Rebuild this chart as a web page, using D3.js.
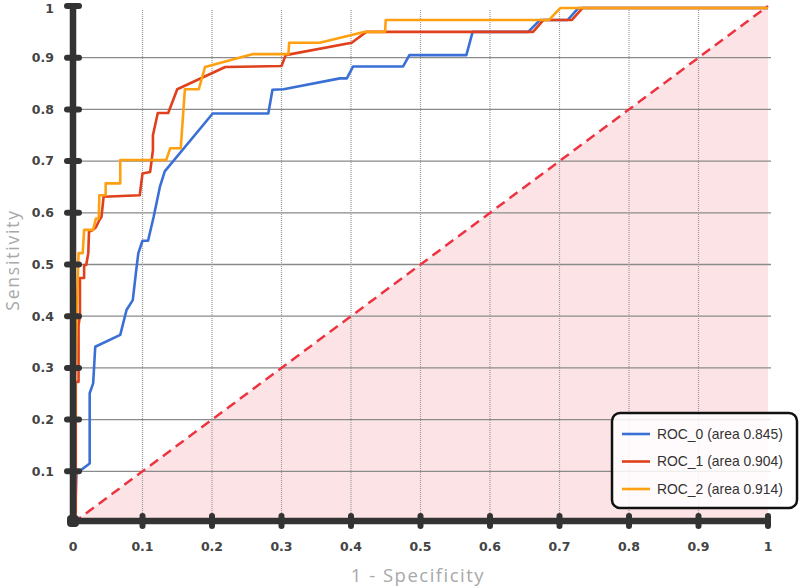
<!DOCTYPE html>
<html><head><meta charset="utf-8">
<script src="https://cdn.jsdelivr.net/npm/d3@7"></script>
<style>body{margin:0;background:#fff}svg{display:block}</style>
</head><body>
<svg id="c" width="800" height="587"></svg>
<script>
const ticks = [0.1,0.2,0.3,0.4,0.5,0.6,0.7,0.8,0.9,1];
const tickLabels = ["0.1","0.2","0.3","0.4","0.5","0.6","0.7","0.8","0.9","1"];
const seriesNames = ["ROC_0 (area 0.845)","ROC_1 (area 0.904)","ROC_2 (area 0.914)"];
const seriesColors = ["#3a70d6","#e0401c","#ffa010"];
const roc0 = [[0,0],[0.003,0.012],[0.005,0.096],[0.024,0.115],[0.024,0.251],[0.029,0.27],[0.032,0.341],[0.068,0.364],[0.077,0.412],[0.086,0.431],[0.091,0.489],[0.094,0.522],[0.1,0.546],[0.108,0.546],[0.116,0.592],[0.125,0.65],[0.132,0.68],[0.201,0.792],[0.281,0.792],[0.287,0.838],[0.303,0.839],[0.384,0.86],[0.394,0.86],[0.403,0.883],[0.475,0.883],[0.484,0.905],[0.566,0.905],[0.575,0.95],[0.655,0.95],[0.672,0.973],[0.712,0.973],[0.727,0.996],[1,0.996]];
const roc1 = [[0,0],[0.004,0.02],[0.004,0.273],[0.008,0.273],[0.008,0.383],[0.01,0.4],[0.01,0.474],[0.016,0.474],[0.016,0.499],[0.019,0.499],[0.022,0.522],[0.023,0.563],[0.029,0.567],[0.033,0.572],[0.038,0.586],[0.041,0.592],[0.044,0.631],[0.096,0.634],[0.1,0.676],[0.111,0.679],[0.115,0.721],[0.115,0.75],[0.122,0.793],[0.137,0.793],[0.15,0.839],[0.219,0.882],[0.3,0.884],[0.306,0.905],[0.401,0.929],[0.422,0.95],[0.662,0.95],[0.677,0.973],[0.718,0.973],[0.733,0.996],[1,0.996]];
const roc2 = [[0,0],[0,0.206],[0.003,0.206],[0.003,0.273],[0.005,0.386],[0.008,0.522],[0.014,0.522],[0.016,0.567],[0.029,0.567],[0.033,0.589],[0.037,0.589],[0.038,0.634],[0.047,0.634],[0.047,0.657],[0.068,0.657],[0.068,0.702],[0.134,0.702],[0.14,0.725],[0.155,0.725],[0.161,0.839],[0.181,0.839],[0.19,0.882],[0.259,0.907],[0.31,0.907],[0.311,0.929],[0.355,0.929],[0.42,0.95],[0.449,0.95],[0.45,0.973],[0.685,0.973],[0.701,0.996],[1,0.996]];
const series = [roc0, roc1, roc2];

const svg = d3.select("#c");
const x = d3.scaleLinear().domain([0,1]).range([73,768]);
const y = d3.scaleLinear().domain([0,1]).range([523,6]);

// pink area under chance diagonal
svg.append("path")
  .attr("d", d3.line().x(d=>x(d[0])).y(d=>y(d[1]))([[0,0],[1,1],[1,0]]) + "Z")
  .attr("fill","#fce4e6");

// grid
const gridT = ticks.slice(0,9);
svg.append("g").selectAll("line").data(gridT).join("line")
  .attr("x1",x(0)).attr("x2",x(1)+3).attr("y1",d=>y(d)).attr("y2",d=>y(d))
  .attr("stroke","#8a8a8a").attr("stroke-width",1.3);
svg.append("g").selectAll("line").data(gridT).join("line")
  .attr("y1",y(0)).attr("y2",y(1)+4).attr("x1",d=>x(d)).attr("x2",d=>x(d))
  .attr("stroke","#9a9a9a").attr("stroke-width",1.2).attr("stroke-dasharray","1,1");

// diagonal
svg.append("line").attr("x1",x(0)).attr("y1",y(0)).attr("x2",x(1)).attr("y2",y(1))
  .attr("stroke","#ee3340").attr("stroke-width",2.5).attr("stroke-dasharray","10,6");

// curves
const line = d3.line().x(d=>x(d[0])).y(d=>y(d[1]));
series.forEach((s,i)=>{
  svg.append("path").attr("d",line(s)).attr("fill","none")
    .attr("stroke",seriesColors[i]).attr("stroke-width",2.6).attr("stroke-linejoin","round");
});

// axes
const axisCol = "#333";
const axisY = y(0)-2;
svg.append("line").attr("x1",x(0)).attr("x2",x(0)).attr("y1",y(1)-1).attr("y2",axisY)
  .attr("stroke",axisCol).attr("stroke-width",6.5);
svg.append("line").attr("x1",x(0)).attr("x2",x(1)+2).attr("y1",axisY).attr("y2",axisY)
  .attr("stroke",axisCol).attr("stroke-width",6.5);
// tick blobs
svg.append("g").selectAll("line").data(ticks).join("line")
  .attr("x1",x(0)-6).attr("x2",x(0)+6).attr("y1",d=>y(d)).attr("y2",d=>y(d))
  .attr("stroke",axisCol).attr("stroke-width",6).attr("stroke-linecap","round");
svg.append("g").selectAll("line").data(ticks).join("line")
  .attr("y1",axisY-5).attr("y2",axisY+5).attr("x1",d=>x(d)).attr("x2",d=>x(d))
  .attr("stroke",axisCol).attr("stroke-width",6).attr("stroke-linecap","round");
svg.append("rect").attr("x",x(0)-6).attr("y",axisY-6).attr("width",12).attr("height",12).attr("rx",4).attr("fill",axisCol);

// tick labels
const tf = "'DejaVu Sans', Verdana, sans-serif";
svg.append("g").selectAll("text").data(ticks).join("text")
  .attr("x",54).attr("y",d=>Math.max(y(d),9)).attr("dy","0.35em").attr("text-anchor","end")
  .attr("font-family",tf).attr("font-weight","bold").attr("font-size",12.5).attr("fill","#444")
  .text((d,i)=>tickLabels[i]);
svg.append("g").selectAll("text").data([0].concat(ticks)).join("text")
  .attr("x",d=>x(d)).attr("y",547).attr("dy","0.35em").attr("text-anchor","middle")
  .attr("font-family",tf).attr("font-weight","bold").attr("font-size",12.5).attr("fill","#444")
  .text((d,i)=> i===0 ? "0" : tickLabels[i-1]);

// axis titles
svg.append("text").attr("x",418).attr("y",582).attr("text-anchor","middle")
  .attr("font-family","'Open Sans', sans-serif").attr("font-size",18.5).attr("fill","#a8a8a8")
  .attr("letter-spacing","1.5px")
  .text("1 - Specificity");
svg.append("text").attr("transform","translate(19,260) rotate(-90)").attr("text-anchor","middle")
  .attr("font-family","'Open Sans', sans-serif").attr("font-size",17.5).attr("fill","#a8a8a8")
  .attr("letter-spacing","1.8px")
  .text("Sensitivity");

// legend
const lg = svg.append("g");
lg.append("rect").attr("x",612).attr("y",413).attr("width",185).attr("height",95).attr("rx",8)
  .attr("fill","rgba(255,255,255,0.85)").attr("stroke","#111").attr("stroke-width",2.5);
seriesNames.forEach((n,i)=>{
  const yy = 434 + i*27.5;
  lg.append("line").attr("x1",622).attr("x2",650).attr("y1",yy).attr("y2",yy)
    .attr("stroke",seriesColors[i]).attr("stroke-width",2.6);
  lg.append("text").attr("x",657).attr("y",yy).attr("dy","0.35em")
    .attr("font-family","'Liberation Sans', Arial, sans-serif").attr("font-size",13.9).attr("fill","#333")
    .text(n);
});
</script>
</body></html>
